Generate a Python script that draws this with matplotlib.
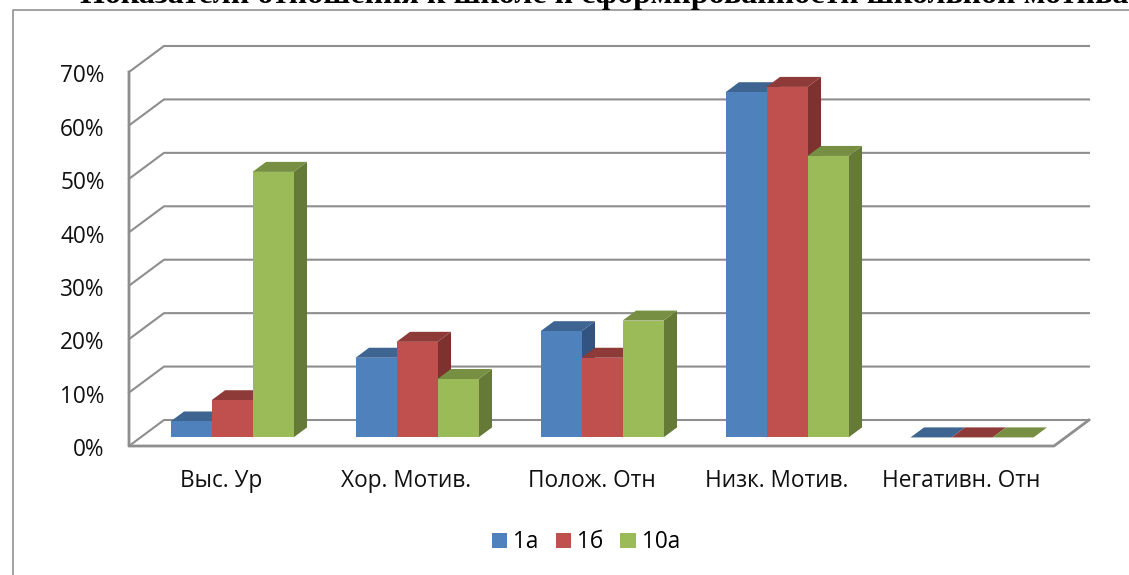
import matplotlib
matplotlib.use("Agg")
import matplotlib.pyplot as plt
from matplotlib.patches import Polygon, Patch
from matplotlib.lines import Line2D
from matplotlib.transforms import ScaledTranslation

categories = ["Выс. Ур", "Хор. Мотив.", "Полож. Отн", "Низк. Мотив.", "Негативн. Отн"]
series_names = ["1а", "1б", "10а"]
values_1a = [3, 15, 20, 65, 0]
values_1b = [7, 18, 15, 66, 0]
values_10a = [50, 11, 22, 53, 0]
y_ticks = [0, 10, 20, 30, 40, 50, 60, 70]
title = "Показатели отношения к школе и сформированности школьной мотивации"

front_colors = ["#4F81BD", "#C0504D", "#9BBB59"]
top_colors = ["#3E6491", "#8E3A38", "#778F43"]
side_colors = ["#335480", "#7E3230", "#667A38"]
grid_color = "#8E8E8E"

W, H = 1129, 575
plt.rcParams["font.family"] = ["Open Sans", "DejaVu Sans"]
fig = plt.figure(figsize=(W / 100, H / 100), dpi=100)
ax = fig.add_axes([129 / W, 1 - 446 / H, (1054 - 129) / W, (446 - 72) / H])
ax.set_xlim(0, 5)
ax.set_ylim(0, 70)
for s in ax.spines.values():
    s.set_visible(False)
ax.patch.set_visible(False)

# oblique depth of the chart box, in data units
DX = 35 / 185
DY = 26 / (374 / 70)
BAR_W = 41 / 185
BAR_START = 30 / 185
D0, D1 = 0.33, 0.715
BAR_SCALE = 0.994


def proj(x, y, d):
    return (x + d * DX, y * BAR_SCALE + d * DY)


# walls and grid
for v in y_ticks:
    ax.add_line(Line2D([0, DX, 5 + DX], [v, v + DY, v + DY], color=grid_color, lw=1.5,
                       clip_on=False, solid_joinstyle="round", zorder=1))
ax.add_line(Line2D([0, 0, 5, 5 + DX], [70, 0, 0, DY], color=grid_color, lw=2.0,
                   clip_on=False, solid_joinstyle="round", zorder=1))

# bars
all_values = [values_1a, values_1b, values_10a]
for g in range(len(categories)):
    for i, vals in enumerate(all_values):
        x0 = g + BAR_START + i * BAR_W
        x1 = x0 + BAR_W
        v = vals[g]
        z = 3 + g + i * 0.1
        if v > 0:
            side = [proj(x1, 0, D0), proj(x1, 0, D1), proj(x1, v, D1), proj(x1, v, D0)]
            ax.add_patch(Polygon(side, fc=side_colors[i], ec="none", clip_on=False, zorder=z))
        top = [proj(x0, v, D0), proj(x1, v, D0), proj(x1, v, D1), proj(x0, v, D1)]
        ax.add_patch(Polygon(top, fc=top_colors[i], ec="none", clip_on=False, zorder=z))
        if v > 0:
            front = [proj(x0, 0, D0), proj(x1, 0, D0), proj(x1, v, D0), proj(x0, v, D0)]
            ax.add_patch(Polygon(front, fc=front_colors[i], ec="none", clip_on=False, zorder=z))

# ticks
FS = 16.3
ax.set_yticks(y_ticks)
ax.set_yticklabels([f"{v}%" for v in y_ticks], fontsize=FS, color="#111111")
ax.set_xticks([g + 0.5 for g in range(len(categories))])
ax.set_xticklabels(categories, fontsize=FS, color="#111111")
ax.tick_params(axis="y", length=0, pad=17.5)
ax.tick_params(axis="x", length=0, pad=16.5)
shift = ScaledTranslation(0, -1.3 / 100, fig.dpi_scale_trans)
for lab in ax.get_yticklabels():
    lab.set_transform(lab.get_transform() + shift)

# legend
handles = [Patch(fc=c, ec="none", label=n) for c, n in zip(front_colors, series_names)]
fig.legend(handles=handles, loc="center", bbox_to_anchor=(586 / W, 1 - 542.5 / H),
           ncol=3, frameon=False, fontsize=FS, handlelength=0.68, handleheight=0.68,
           handletextpad=0.27, columnspacing=0.75, borderpad=0)

# outer frame of the chart, cut by the page edge
fig.add_artist(Line2D([12.5 / W, 12.5 / W, 1], [0, 1 - 10 / H, 1 - 10 / H],
                      color="#9A9A9A", lw=1.3, transform=fig.transFigure))

# title, clipped by the picture's top and right edges
fig.text(80 / W, 1 - 3.5 / H, title, family="Liberation Serif", fontweight="bold",
         fontsize=23, color="black", ha="left", va="baseline")

fig.savefig("out.png", dpi=100)
